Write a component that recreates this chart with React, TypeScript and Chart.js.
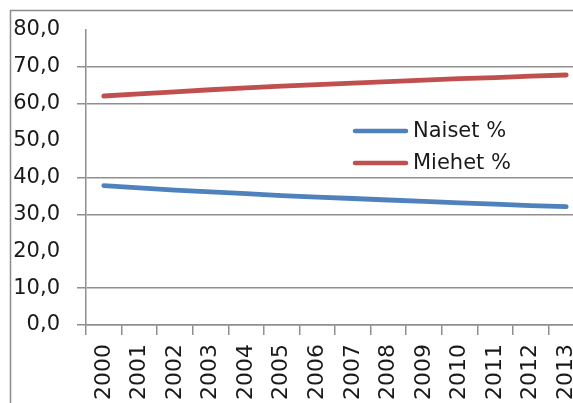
import React, { useEffect, useRef } from "react";
import { Chart, registerables } from "chart.js";

Chart.register(...registerables);

const years = ["2000", "2001", "2002", "2003", "2004", "2005", "2006", "2007", "2008", "2009", "2010", "2011", "2012", "2013"];
const naiset = [37.8, 37.2, 36.6, 36.1, 35.6, 35.1, 34.7, 34.3, 33.9, 33.5, 33.1, 32.8, 32.4, 32.1];
const miehet = [62.1, 62.7, 63.2, 63.8, 64.3, 64.8, 65.2, 65.6, 66.0, 66.4, 66.8, 67.1, 67.5, 67.8];
const seriesNames = ["Naiset %", "Miehet %"];
const seriesColors = ["#4F81BD", "#C0504D"];
const yTickLabels = ["0,0", "10,0", "20,0", "30,0", "40,0", "50,0", "60,0", "70,0", "80,0"];
const hiddenGridValues = [20, 50, 80];

const W = 584;
const H = 403;
const FONT = "'DejaVu Sans', sans-serif";
const GRID = "#8f8f8f";

const framePlugin = {
  id: "frame",
  beforeDraw(chart: any) {
    const ctx = chart.ctx;
    ctx.save();
    ctx.fillStyle = "#ffffff";
    ctx.fillRect(0, 0, chart.width, chart.height);
    ctx.strokeStyle = "#8c8c8c";
    ctx.lineWidth = 1.5;
    ctx.beginPath();
    ctx.moveTo(10.5, chart.height + 5);
    ctx.lineTo(10.5, 10.5);
    ctx.lineTo(chart.width + 5, 10.5);
    ctx.stroke();
    ctx.restore();
  },
};

const legendPlugin = {
  id: "innerLegend",
  afterDraw(chart: any) {
    const ctx = chart.ctx;
    ctx.save();
    ctx.font = `21px ${FONT}`;
    ctx.textBaseline = "middle";
    ctx.textAlign = "left";
    chart.data.datasets.forEach((ds: any, i: number) => {
      const y = 131 + i * 32;
      ctx.strokeStyle = ds.borderColor;
      ctx.lineWidth = 4.5;
      ctx.lineCap = "round";
      ctx.beginPath();
      ctx.moveTo(355, y);
      ctx.lineTo(406, y);
      ctx.stroke();
      ctx.fillStyle = "#1a1a1a";
      ctx.fillText(ds.label, 413, y + 1);
    });
    ctx.restore();
  },
};

export default function App() {
  const ref = useRef<HTMLCanvasElement | null>(null);

  useEffect(() => {
    if (!ref.current) return;
    const chart = new Chart(ref.current, {
      type: "line",
      data: {
        labels: years,
        datasets: [
          {
            label: seriesNames[0],
            data: naiset,
            borderColor: seriesColors[0],
            backgroundColor: seriesColors[0],
            borderWidth: 4.8,
            pointRadius: 0,
            borderCapStyle: "round",
            borderJoinStyle: "round",
            fill: false,
            tension: 0,
          },
          {
            label: seriesNames[1],
            data: miehet,
            borderColor: seriesColors[1],
            backgroundColor: seriesColors[1],
            borderWidth: 4.8,
            pointRadius: 0,
            borderCapStyle: "round",
            borderJoinStyle: "round",
            fill: false,
            tension: 0,
          },
        ],
      },
      options: {
        responsive: false,
        animation: false,
        devicePixelRatio: 1,
        layout: { padding: { top: 30, left: 0, right: 0, bottom: 0 } },
        plugins: {
          legend: { display: false },
          tooltip: { enabled: false },
        },
        scales: {
          x: {
            type: "category",
            offset: true,
            grid: {
              display: true,
              drawOnChartArea: false,
              drawTicks: true,
              tickLength: 10,
              offset: true,
              color: GRID,
              lineWidth: 1.5,
            },
            border: { display: true, color: GRID, width: 1.5 },
            ticks: {
              autoSkip: false,
              minRotation: 90,
              maxRotation: 90,
              padding: 9,
              color: "#1a1a1a",
              font: { family: FONT, size: 22 },
            },
            afterFit(scale: any) {
              scale.height = 78;
              scale.paddingLeft = 0;
              scale.paddingRight = 0;
            },
          },
          y: {
            min: 0,
            max: 80,
            grid: {
              drawTicks: true,
              tickLength: 9,
              lineWidth: 1.5,
              color: (c: any) =>
                c.tick && hiddenGridValues.includes(c.tick.value) ? "rgba(0,0,0,0)" : GRID,
            },
            border: { display: true, color: GRID, width: 1.5 },
            ticks: {
              stepSize: 10,
              padding: 17,
              color: "#1a1a1a",
              font: { family: FONT, size: 21 },
              callback: (v: any) => yTickLabels[Math.round(Number(v) / 10)],
            },
            afterFit(scale: any) {
              scale.width = 86;
            },
          },
        },
      },
      plugins: [framePlugin, legendPlugin],
    } as any);
    return () => chart.destroy();
  }, []);

  return (
    <div style={{ position: "fixed", left: 0, top: 0, width: W, height: H, overflow: "hidden", background: "#fff" }}>
      <canvas ref={ref} width={W} height={H} style={{ display: "block", width: W, height: H }} />
    </div>
  );
}
